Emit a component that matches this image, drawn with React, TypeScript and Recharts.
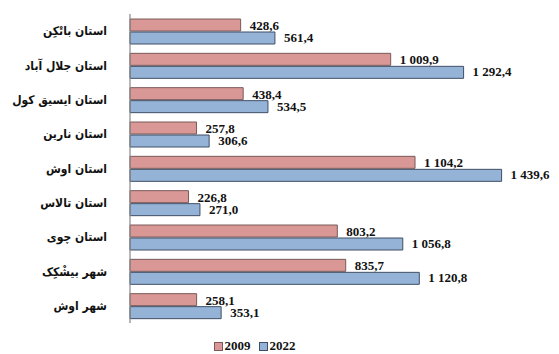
import { BarChart, Bar, XAxis, YAxis, LabelList } from 'recharts'

const categories = [
  'استان باتْکِن',
  'استان جلال آباد',
  'استان ایسیق کول',
  'استان نارین',
  'استان اوش',
  'استان تالاس',
  'استان چوی',
  'شهر بیشْکِک',
  'شهر اوش',
]
const values2009 = [428.6, 1009.9, 438.4, 257.8, 1104.2, 226.8, 803.2, 835.7, 258.1]
const values2022 = [561.4, 1292.4, 534.5, 306.6, 1439.6, 271.0, 1056.8, 1120.8, 353.1]

const series = [
  { key: 'y2009', name: '2009', fill: '#d99795', stroke: '#7a5a5a' },
  { key: 'y2022', name: '2022', fill: '#95b3d7', stroke: '#3f4f66' },
]

const data = categories.map((name, i) => ({ name, y2009: values2009[i], y2022: values2022[i] }))

function fmt(v: number) {
  const [int, dec] = v.toFixed(1).split('.')
  return int.replace(/\B(?=(\d{3})+(?!\d))/g, ' ') + ',' + dec
}

const NUM_FONT = '"Liberation Serif", "Times New Roman", serif'

function makeLabel(dy: number) {
  return (props: any) => {
    const { x, y, width, height, value } = props
    return (
      <text
        x={x + width + 9}
        y={y + height / 2 + dy}
        fontFamily={NUM_FONT}
        fontWeight="bold"
        fontSize={13}
        fill="#111"
        dominantBaseline="middle"
      >
        {fmt(value)}
      </text>
    )
  }
}

export default function App() {
  return (
    <div style={{ position: 'absolute', left: 0, top: 0, width: 559, height: 354, background: '#fff' }}>
      <BarChart
        width={559}
        height={330}
        data={data}
        layout="vertical"
        margin={{ top: 14, right: 16, bottom: 7, left: 0 }}
        barSize={12}
        barGap={1}
      >
        <XAxis type="number" domain={[0, 1600]} hide />
        <YAxis
          type="category"
          dataKey="name"
          width={130}
          axisLine={{ stroke: '#888', strokeWidth: 1.2 }}
          tickLine={false}
          tickMargin={17}
          tick={{ fontFamily: '"DejaVu Sans Condensed", "DejaVu Sans", sans-serif', fontWeight: 'bold', fontSize: 12, fill: '#111' }}
        />
        {series.map((s, i) => (
          <Bar
            key={s.key}
            dataKey={s.key}
            name={s.name}
            fill={s.fill}
            stroke={s.stroke}
            strokeWidth={1}
            isAnimationActive={false}
          >
            <LabelList dataKey={s.key} content={makeLabel(i === 0 ? 2 : 1)} />
          </Bar>
        ))}
      </BarChart>
      <div
        style={{
          position: 'absolute',
          top: 339,
          left: 0,
          width: 559,
          display: 'flex',
          justifyContent: 'center',
          gap: 8,
          fontFamily: NUM_FONT,
          fontWeight: 'bold',
          fontSize: 13,
          color: '#111',
          lineHeight: '14px',
          paddingRight: 50,
          boxSizing: 'border-box',
        }}
      >
        {series.map((s) => (
          <div key={s.key} style={{ display: 'flex', alignItems: 'center', gap: 2 }}>
            <span
              style={{
                display: 'inline-block',
                width: 7,
                height: 7,
                background: s.fill,
                border: `1px solid ${s.stroke}`,
              }}
            />
            <span>{s.name}</span>
          </div>
        ))}
      </div>
    </div>
  )
}
